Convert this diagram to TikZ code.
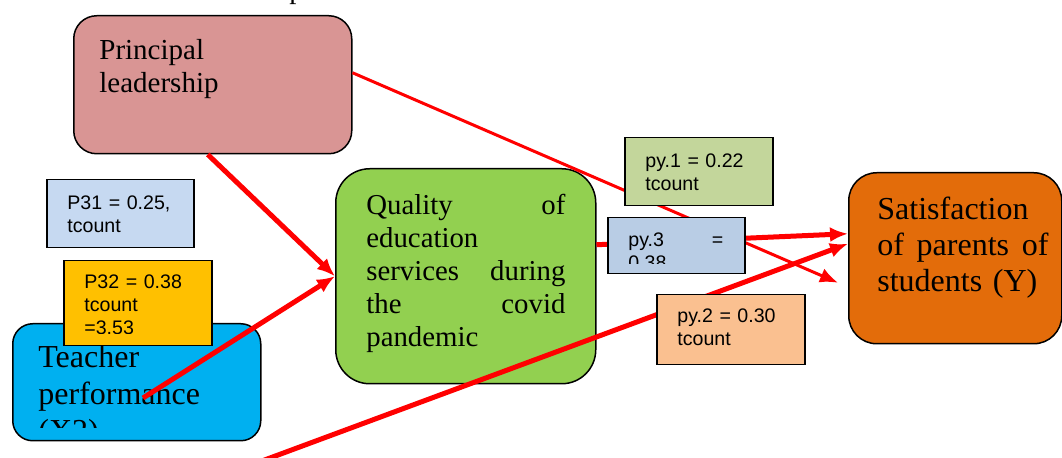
\documentclass[tikz,border=0pt]{standalone}
\usepackage{fontspec}
\setmainfont{Liberation Serif}
\setsansfont{Liberation Sans}
\definecolor{leadpink}{HTML}{D99594}
\definecolor{teachblue}{HTML}{00B0F0}
\definecolor{qualgreen}{HTML}{92D050}
\definecolor{satorange}{HTML}{E36C0A}
\definecolor{pblue}{HTML}{C6D9F1}
\definecolor{pgold}{HTML}{FFC000}
\definecolor{pygreen}{HTML}{C3D69B}
\definecolor{pyblue}{HTML}{B9CDE5}
\definecolor{pypeach}{HTML}{FAC090}
\usepackage{tikz}
\usetikzlibrary{arrows.meta}

\begin{document}
\begin{tikzpicture}[x=0.5pt,y=-0.5pt,>={Latex[length=9pt,width=7.5pt]}]
	
	\tikzset{box/.style={draw=black, line width=0.75pt, anchor=north west, inner sep=0pt}}
	\tikzset{rbox/.style={box, rounded corners=#1}}
	\tikzset{serif txt/.style={anchor=base west, inner sep=0pt, align=left, text width=#1}}
	\tikzset{sans txt/.style={anchor=base west, inner sep=0pt, align=left, text width=#1,
			font=\sffamily\fontsize{9.8}{11.5}\selectfont}}
	\tikzset{link/.style={->, draw=red, line width=2.5pt}}
	
	\useasboundingbox (0,0) rectangle (1062,458);
	
	\node[anchor=base west, inner sep=0pt, font=\fontsize{14.4}{16.5}\selectfont] (top-p) at (289,-1.5) {p};
	
	% variables
	\node[rbox=11.5pt, fill=leadpink, minimum width=139pt, minimum height=69pt] (principal) at (73,15) {};
	\node[rbox=10pt, fill=teachblue, minimum width=124pt, minimum height=58.5pt] (teacher) at (12,323) {};
	\node[rbox=17pt, fill=qualgreen, minimum width=130pt, minimum height=107.5pt] (quality) at (335,168) {};
	\node[rbox=14pt, fill=satorange, minimum width=106.5pt, minimum height=85.5pt] (satis) at (848,172) {};
	
	\node[serif txt=110pt, font=\fontsize{14.5}{16.5}\selectfont] (principal-txt) at (99,60) {Principal\\leadership};
	\begin{scope}
		\clip (teacher.north west) rectangle ([yshift=7pt]teacher.south east);
		\node[serif txt=115pt, font=\fontsize{16}{18.5}\selectfont] (teacher-txt) at (38,368) {Teacher\\performance\\(X2)};
	\end{scope}
	\node[serif txt=99.5pt, font=\fontsize{14.4}{16.5}\selectfont] (quality-txt) at (366,215)
	{Quality \hfill of\\education\\services \hfill during\\the \hfill covid\\pandemic};
	\node[serif txt=85.5pt, font=\fontsize{16}{18}\selectfont] (satis-txt) at (877,220)
	{Satisfaction\\of \hfill parents \hfill of\\students (Y)};
	
	% paths
	\coordinate (tp) at (143,398);
	\coordinate (bot) at (243,468);
	\draw[link] ([xshift=-2.5pt]principal.south) -- (quality.west);
	\draw[link] (tp) -- (quality.west);
	\draw[link, line width=1.5pt] ([yshift=6pt]principal.east) -- ([xshift=-5pt,yshift=-12.25pt]satis.west);
	\draw[link] ([yshift=15.75pt]quality.east) -- ([yshift=12.25pt]satis.west);
	\draw[link] (bot) -- ([yshift=7.25pt]satis.west);
	
	% coefficients
	\node[box, fill=pblue, minimum width=73.5pt, minimum height=34pt] (p31) at (46,179) {};
	\node[sans txt=65pt] (p31-txt) at (67,210) {P31 = 0.25,\\tcount};
	
	\node[box, fill=pgold, minimum width=74pt, minimum height=42.5pt] (p32) at (63,260) {};
	\begin{scope}
		\clip (p32.north west) rectangle ([yshift=6.5pt]p32.south east);
		\node[sans txt=60pt] (p32-txt) at (84,289) {P32 = 0.38\\tcount\\=3.53};
	\end{scope}
	
	\node[box, fill=pygreen, minimum width=74pt, minimum height=34pt] (py1) at (624,137) {};
	\node[sans txt=62pt] (py1-txt) at (645,168) {py.1 = 0.22\\tcount};
	
	\node[box, fill=pyblue, minimum width=68.5pt, minimum height=28pt] (py3) at (607,217) {};
	\begin{scope}
		\clip (py3.north west) rectangle ([yshift=5.5pt]py3.south east);
		\node[sans txt=47.5pt] (py3-txt) at (628,247) {py.3 \hfill =\\0.38};
	\end{scope}
	
	\node[box, fill=pypeach, minimum width=74pt, minimum height=35pt] (py2) at (656,294) {};
	\node[sans txt=62pt] (py2-txt) at (677,323) {py.2 = 0.30\\tcount};
	
\end{tikzpicture}
\end{document}
